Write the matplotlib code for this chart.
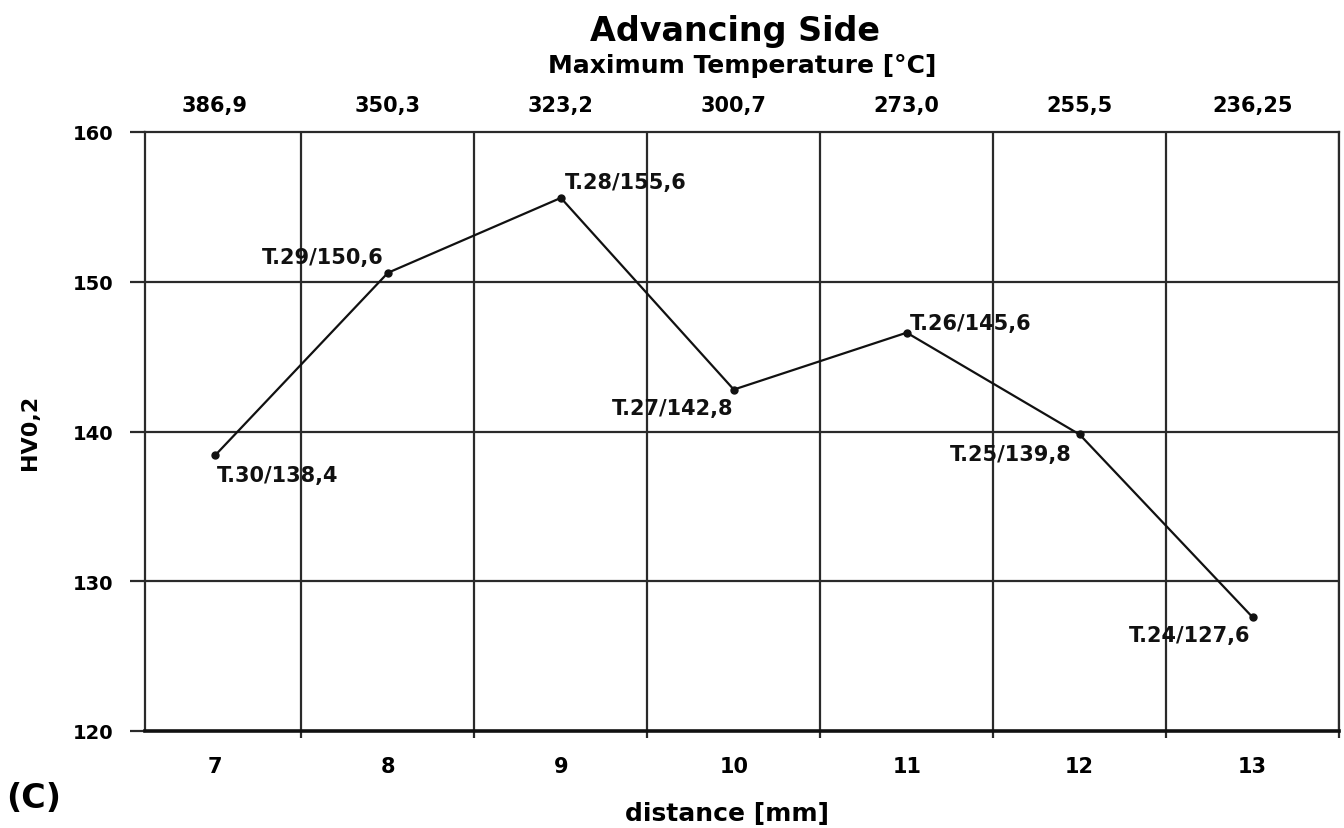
import matplotlib
matplotlib.use("Agg")
import matplotlib.pyplot as plt

plt.rcParams["font.family"] = ["DejaVu Sans"]
plt.rcParams["font.weight"] = "bold"

distance = [7, 8, 9, 10, 11, 12, 13]
hardness = [138.4, 150.6, 155.6, 142.8, 146.6, 139.8, 127.6]
point_labels = ["T.30/138,4", "T.29/150,6", "T.28/155,6", "T.27/142,8",
                "T.26/145,6", "T.25/139,8", "T.24/127,6"]
max_temp = ["386,9", "350,3", "323,2", "300,7", "273,0", "255,5", "236,25"]
y_ticks = [120, 130, 140, 150, 160]
grid_x = [7.5, 8.5, 9.5, 10.5, 11.5, 12.5, 13.5]

# label placement per point: (dx px, dy px, ha, va)
label_pos = [(2, -10, "left", "top"), (-4, 6, "right", "bottom"),
             (4, 6, "left", "bottom"), (0, -8, "right", "top"),
             (3, 0, "left", "bottom"), (-8, -10, "right", "top"),
             (-2, -8, "right", "top")]


def main() -> None:
    fig = plt.figure(figsize=(13.44, 8.29), dpi=100)
    ax = fig.add_axes([145 / 1344, 1 - 732 / 829, (1339 - 145) / 1344, (732 - 133) / 829])
    ax.set_xlim(6.595, 13.5)
    ax.set_ylim(120, 160)

    for gx in grid_x:
        ax.axvline(gx, color="#2a2a2a", lw=1.6, zorder=1)
    for gy in y_ticks[1:-1]:
        ax.axhline(gy, color="#2a2a2a", lw=1.6, zorder=1)

    ax.plot(distance, hardness, color="#111111", lw=1.6, marker="o", ms=5, zorder=3)
    for x, y, lab, (dx, dy, ha, va) in zip(distance, hardness, point_labels, label_pos):
        ax.annotate(lab, (x, y), xytext=(dx * 0.72, dy * 0.72), textcoords="offset points",
                    ha=ha, va=va, fontsize=15, fontweight="bold", color="#111111")

    for s in ["left", "top", "right"]:
        ax.spines[s].set_linewidth(1.6)
        ax.spines[s].set_color("#2a2a2a")
    ax.spines["bottom"].set_linewidth(2.6)
    ax.spines["bottom"].set_color("#111111")

    ax.set_yticks(y_ticks)
    ax.set_yticklabels([str(v) for v in y_ticks], fontsize=14, fontweight="bold")
    ax.tick_params(axis="y", length=11, width=1.6, color="#2a2a2a", pad=12)

    ax.set_xticks(grid_x)
    ax.set_xticklabels([])
    ax.tick_params(axis="x", length=5, width=1.6, color="#2a2a2a")
    ax.set_xticks(distance, minor=True)
    ax.set_xticklabels([str(d) for d in distance], minor=True, fontsize=15, fontweight="bold")
    ax.tick_params(axis="x", which="minor", length=0, pad=18)

    top = ax.secondary_xaxis("top")
    top.set_xticks(distance)
    top.set_xticklabels(max_temp, fontsize=15, fontweight="bold")
    top.tick_params(length=0, pad=12)
    top.spines["top"].set_visible(False)

    fig.text(727 / 1344, 1 - 814 / 829, "distance [mm]", ha="center", va="center",
             fontsize=18, fontweight="bold")
    fig.text(30 / 1344, 1 - 432 / 829, "HV0,2", ha="center", va="center", rotation=90,
             fontsize=16, fontweight="bold")

    fig.text(735 / 1344, 1 - 32 / 829, "Advancing Side", ha="center", va="center",
             fontsize=24, fontweight="bold")
    fig.text(742 / 1344, 1 - 66 / 829, "Maximum Temperature [°C]", ha="center", va="center",
             fontsize=18, fontweight="bold")
    fig.text(6 / 1344, 1 - 799 / 829, "(C)", ha="left", va="center",
             fontsize=24, fontweight="bold")

    fig.savefig("out.png", dpi=100)
    plt.close(fig)


if __name__ == "__main__":
    main()
